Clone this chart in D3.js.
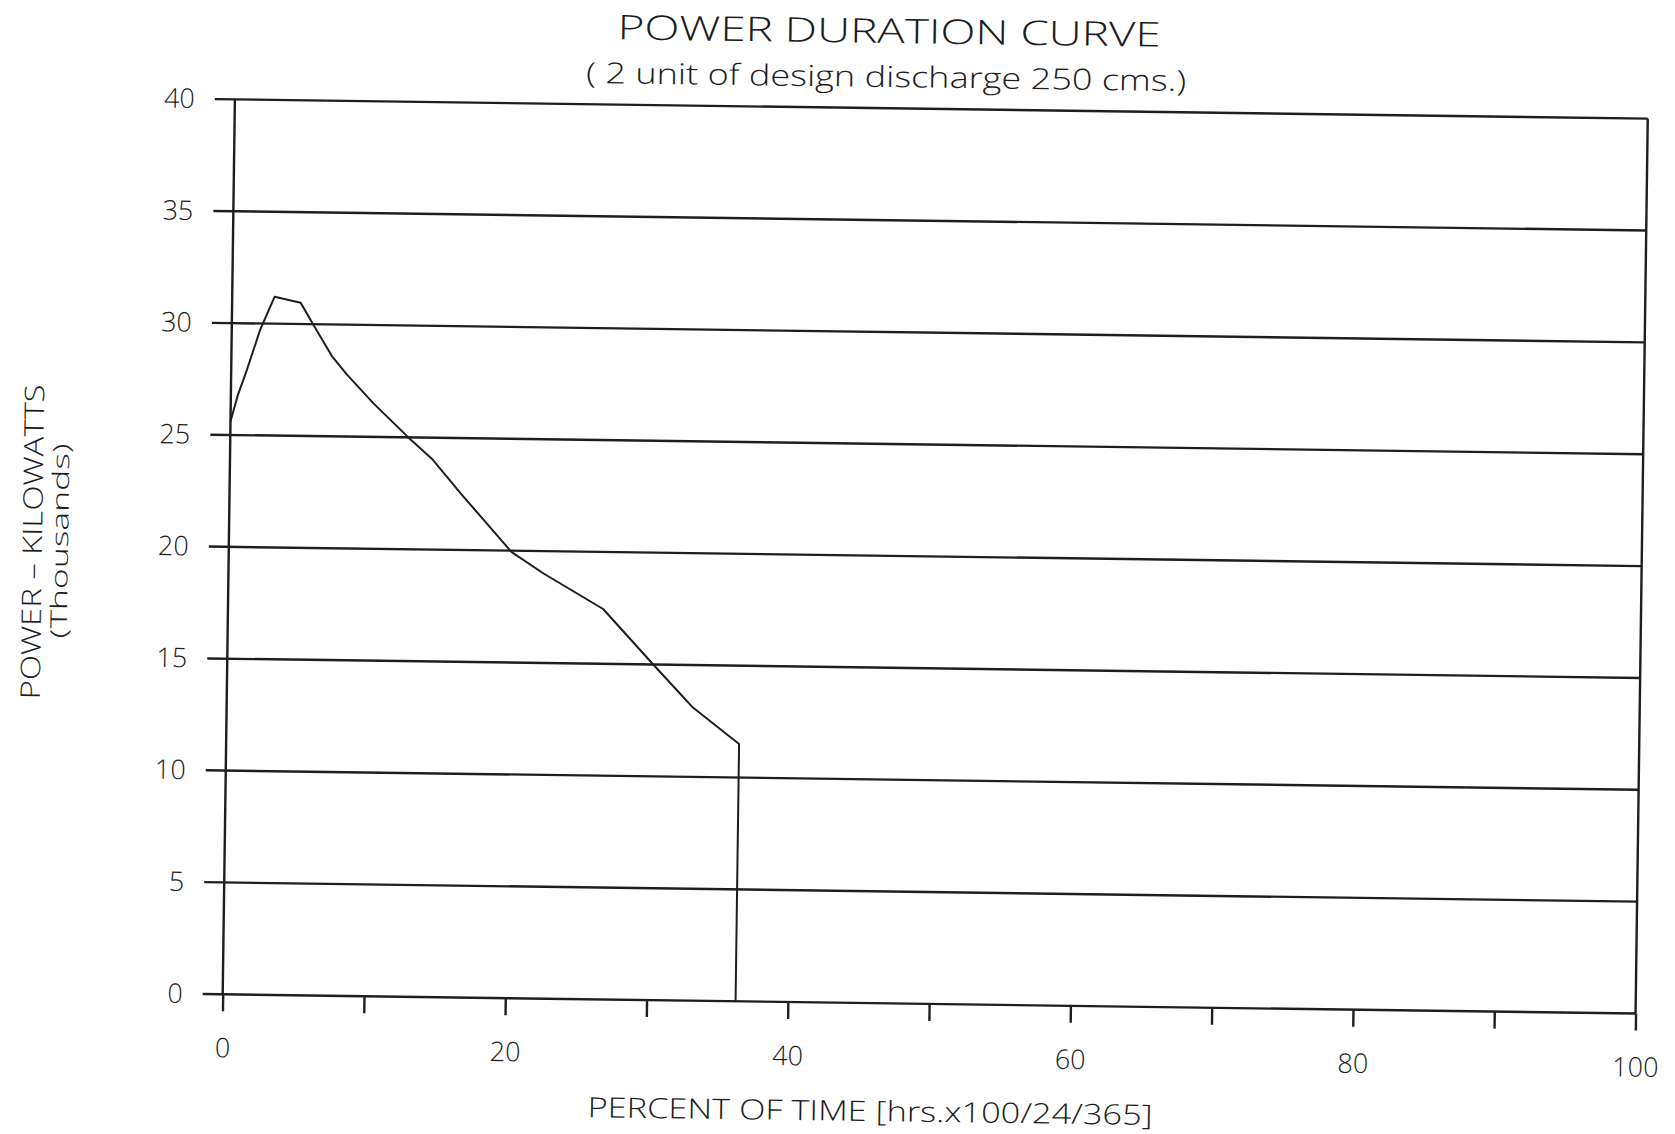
<!DOCTYPE html>
<html>
<head>
<meta charset="utf-8">
<script src="https://cdn.jsdelivr.net/npm/d3@7"></script>
<style>
  html, body { margin: 0; padding: 0; background: #ffffff; }
  svg { display: block; }
  text { font-family: "Open Sans", "Lato", "DejaVu Sans", sans-serif; font-weight: 300; fill: #1c1c1c; }
</style>
</head>
<body>
<svg id="chart" width="1675" height="1134"></svg>
<script>
// Power duration curve: percent of time vs. power (thousand kW)
const percentTime = [0, 0.5, 1.1, 2.0, 2.6, 3.0, 4.85, 5.75, 7.1, 8.15, 10.1, 12.6, 14.3, 16.4, 20.0, 22.3, 26.55, 30.15, 31.95, 33.0, 36.3, 36.3];
const powerKW = [25.6, 26.8, 27.9, 29.7, 30.6, 31.2, 30.95, 30.0, 28.6, 27.8, 26.5, 25.0, 24.05, 22.5, 19.95, 19.0, 17.45, 15.0, 13.8, 13.1, 11.5, 0];

const xTicks = [0, 10, 20, 30, 40, 50, 60, 70, 80, 90, 100];
const xLabels = [0, 20, 40, 60, 80, 100];
const yTicks = [0, 5, 10, 15, 20, 25, 30, 35, 40];

const titleText = "POWER DURATION CURVE";
const subtitleText = "( 2 unit of design discharge 250 cms.)";
const xTitleText = "PERCENT OF TIME [hrs.x100/24/365]";
const yTitleText = "POWER  \u2013  KILOWATTS";
const yTitleText2 = "(Thousands)";

const svg = d3.select("#chart");
const ink = "#1e1e1e";

const x = d3.scaleLinear().domain([0, 100]).range([222.7, 1635.7]);
const y = d3.scaleLinear().domain([0, 40]).range([994.3, 99.3]);

// the whole sheet sits with a slight clockwise tilt about the origin
const tilt = 0.78;
const ox = x(0), oy = y(0);
const rad = tilt * Math.PI / 180, c = Math.cos(rad), s = Math.sin(rad);
function unrot(X, Y) {
  const dx = X - ox, dy = Y - oy;
  return [ox + dx * c + dy * s, oy - dx * s + dy * c];
}

const g = svg.append("g").attr("transform", `rotate(${tilt},${ox},${oy})`);

// horizontal grid lines (with short stubs left of the axis)
g.append("g").selectAll("line").data(yTicks).join("line")
  .attr("x1", x(0) - 20).attr("x2", x(100))
  .attr("y1", d => y(d)).attr("y2", d => y(d))
  .attr("stroke", ink).attr("stroke-width", 2.4);

// left axis and right frame
[0, 100].forEach(v => {
  g.append("line")
    .attr("x1", x(v)).attr("x2", x(v))
    .attr("y1", y(40)).attr("y2", y(0))
    .attr("stroke", ink).attr("stroke-width", 2.4);
});

// y tick labels
const yAxis = g.append("g").attr("transform", `translate(${x(0)},0)`)
  .call(d3.axisLeft(y).tickValues(yTicks).tickSize(0).tickPadding(40).tickFormat(d3.format("d")));
yAxis.select(".domain").remove();
yAxis.selectAll("text").attr("font-size", 27).style("font-family", null).attr("fill", ink);

// x axis ticks and labels
const xAxis = g.append("g").attr("transform", `translate(0,${y(0)})`)
  .call(d3.axisBottom(x).tickValues(xTicks).tickSize(17).tickSizeOuter(0).tickPadding(27)
    .tickFormat(d => xLabels.includes(d) ? d3.format("d")(d) : ""));
xAxis.select(".domain").remove();
xAxis.selectAll(".tick line").attr("stroke", ink).attr("stroke-width", 2.4);
xAxis.selectAll("text").attr("font-size", 27).attr("fill", ink);

// the duration curve
g.append("path")
  .datum(percentTime.map((p, i) => [p, powerKW[i]]))
  .attr("fill", "none")
  .attr("stroke", ink)
  .attr("stroke-width", 2)
  .attr("stroke-linejoin", "round")
  .attr("d", d3.line().x(d => x(d[0])).y(d => y(d[1])));

// titles
function label(text, X, Y, size, len, angle) {
  const [ux, uy] = unrot(X, Y);
  const t = g.append("text")
    .attr("x", 0).attr("y", 0)
    .attr("transform", `translate(${ux},${uy})` + (angle ? ` rotate(${angle})` : ""))
    .attr("text-anchor", "middle")
    .attr("font-size", size)
    .text(text);
  if (len) t.attr("textLength", len).attr("lengthAdjust", "spacingAndGlyphs");
  return t;
}

label(titleText, 889, 43, 34, 543);
label(subtitleText, 886, 87, 29, 600);
label(xTitleText, 870, 1121, 28, 565);
label(yTitleText, 42, 542, 27, 315, -90);
label(yTitleText2, 68, 541, 23, 195, -90);
</script>
</body>
</html>
